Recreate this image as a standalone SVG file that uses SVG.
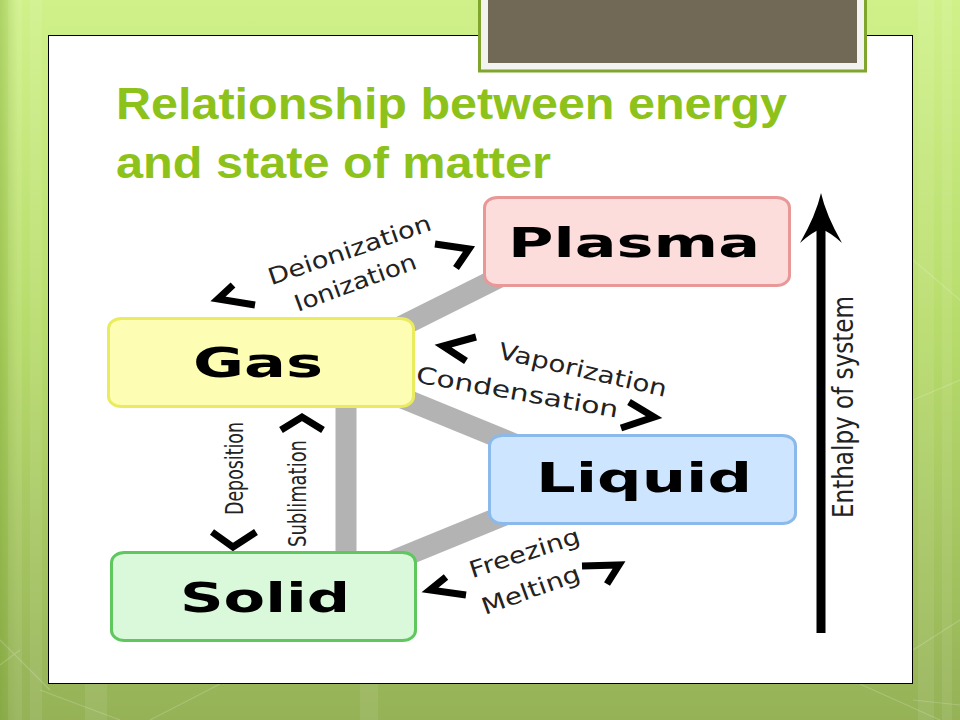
<svg xmlns="http://www.w3.org/2000/svg" width="960" height="720" viewBox="0 0 960 720">
<defs>
<linearGradient id="bg" x1="0" y1="0" x2="0" y2="1">
<stop offset="0" stop-color="#d0f18a"/>
<stop offset="0.45" stop-color="#b8dc6c"/>
<stop offset="1" stop-color="#95b257"/>
</linearGradient>
<linearGradient id="edge" x1="0" y1="0" x2="1" y2="0">
<stop offset="0" stop-color="#6f9a25" stop-opacity="0.35"/>
<stop offset="1" stop-color="#6f9a25" stop-opacity="0"/>
</linearGradient>
<style>
.node rect{stroke-width:3}
.lbl{font-family:"DejaVu Sans",sans-serif;font-weight:bold;font-size:40px;fill:#000;text-anchor:middle}
.tr{font-family:"DejaVu Sans",sans-serif;font-size:23px;fill:#222;text-anchor:middle}
.vt{font-family:"DejaVu Sans",sans-serif;font-size:25px;fill:#222;text-anchor:middle}
.chev{fill:none;stroke:#000;stroke-width:7;stroke-linejoin:miter;stroke-linecap:butt}
.band{stroke:#b3b3b3;stroke-width:21;fill:none}
.title{font-family:"Liberation Sans",Arial,sans-serif;font-weight:bold;font-size:44px;fill:#8dc21a}
.stripe{fill:#ffffff;opacity:0.08}
.thin{stroke:#ffffff;stroke-opacity:0.18;stroke-width:1.2;fill:none}
</style>
</defs>
<!-- background -->
<rect x="0" y="0" width="960" height="720" fill="url(#bg)"/>
<rect x="0" y="0" width="18" height="720" fill="url(#edge)"/>
<rect class="stripe" x="8" y="0" width="14" height="720"/>
<rect class="stripe" x="30" y="0" width="12" height="720"/>
<rect class="stripe" x="918" y="0" width="16" height="720"/>
<rect class="stripe" x="942" y="0" width="10" height="720"/>
<rect class="stripe" x="85" y="684" width="22" height="36"/>
<rect class="stripe" x="360" y="684" width="18" height="36"/>
<path class="thin" d="M0,640 L50,690 M20,650 L0,665 M40,690 L120,720 M150,720 L220,684 M860,684 L940,720 M913,650 L960,620 M913,700 L960,705 M913,260 L960,300 M913,400 L960,380"/>
<!-- panel -->
<rect x="48.5" y="35.5" width="864" height="648" fill="#ffffff" stroke="#000" stroke-width="1"/>
<!-- brown box -->
<rect x="479.5" y="-6" width="386" height="77" fill="#f3f3f1" stroke="#7fa52c" stroke-width="3"/>
<rect x="488" y="-6" width="369" height="69" fill="#716856"/>
<!-- title -->
<text class="title" x="116" y="119" textLength="671" lengthAdjust="spacingAndGlyphs">Relationship between energy</text>
<text class="title" x="116" y="178" textLength="435" lengthAdjust="spacingAndGlyphs">and state of matter</text>
<!-- connectors -->
<g id="connectors">
<line class="band" x1="346" y1="354" x2="560" y2="247"/>
<line class="band" x1="346" y1="375" x2="600" y2="479"/>
<line class="band" x1="346" y1="580" x2="600" y2="476"/>
<line class="band" x1="346" y1="395" x2="346" y2="560" stroke-width="23"/>
<path class="chev" d="M435,244 L469,249 L456,268"/>
<path class="chev" d="M233,285 L218,299 L255,305"/>
<path class="chev" d="M476,337 L443,346 L466,361"/>
<path class="chev" d="M629,402 L654,417 L621,428"/>
<path class="chev" d="M281,430 L302,417 L323,430"/>
<path class="chev" d="M212,532 L233,547 L256,532"/>
<path class="chev" d="M582,566 L619,565 L607,584"/>
<path class="chev" d="M446,577 L430,590 L466,595"/>
<text class="tr" transform="translate(352,257.5) rotate(-19)" textLength="171" lengthAdjust="spacingAndGlyphs">Deionization</text>
<text class="tr" transform="translate(358,290) rotate(-20)" textLength="128" lengthAdjust="spacingAndGlyphs">Ionization</text>
<text class="tr" transform="translate(581,377.5) rotate(13)" textLength="172" lengthAdjust="spacingAndGlyphs">Vaporization</text>
<text class="tr" transform="translate(516,400) rotate(10)" textLength="205" lengthAdjust="spacingAndGlyphs">Condensation</text>
<text class="tr" transform="translate(527,560.5) rotate(-18)" textLength="115" lengthAdjust="spacingAndGlyphs">Freezing</text>
<text class="tr" transform="translate(533.5,597.5) rotate(-20)" textLength="103" lengthAdjust="spacingAndGlyphs">Melting</text>
<text class="vt" transform="translate(243,468.5) rotate(-90)" textLength="93" lengthAdjust="spacingAndGlyphs">Deposition</text>
<text class="vt" transform="translate(306,493.5) rotate(-90)" textLength="107" lengthAdjust="spacingAndGlyphs">Sublimation</text>
<line x1="821" y1="226" x2="821" y2="633" stroke="#000" stroke-width="9"/>
<path d="M821,193 Q826,215 842,243 Q830,232 821,229 Q812,232 800,243 Q816,215 821,193 Z" fill="#000"/>
<text class="vt" transform="translate(853,407) rotate(-90)" style="font-size:28px" textLength="222" lengthAdjust="spacingAndGlyphs">Enthalpy of system</text>
</g>
<!-- nodes -->
<g id="plasma" class="node">
<rect x="484.5" y="197.5" width="305" height="88" rx="13" ry="10" fill="#fddcdc" stroke="#e99898"/>
<text class="lbl" x="634" y="257" textLength="252" lengthAdjust="spacingAndGlyphs">Plasma</text>
</g>
<g id="gas" class="node">
<rect x="108.5" y="318.5" width="305" height="88" rx="13" ry="10" fill="#fdfdb4" stroke="#ebeb5e"/>
<text class="lbl" x="258" y="377" textLength="130" lengthAdjust="spacingAndGlyphs">Gas</text>
</g>
<g id="liquid" class="node">
<rect x="489.5" y="435.5" width="306" height="88" rx="13" ry="10" fill="#cde5fe" stroke="#8ab9ea"/>
<text class="lbl" x="644" y="492" textLength="216" lengthAdjust="spacingAndGlyphs">Liquid</text>
</g>
<g id="solid" class="node">
<rect x="111.5" y="552.5" width="304" height="88" rx="13" ry="10" fill="#d9f9da" stroke="#5ec85e"/>
<text class="lbl" x="265" y="612" textLength="170" lengthAdjust="spacingAndGlyphs">Solid</text>
</g>
</svg>
